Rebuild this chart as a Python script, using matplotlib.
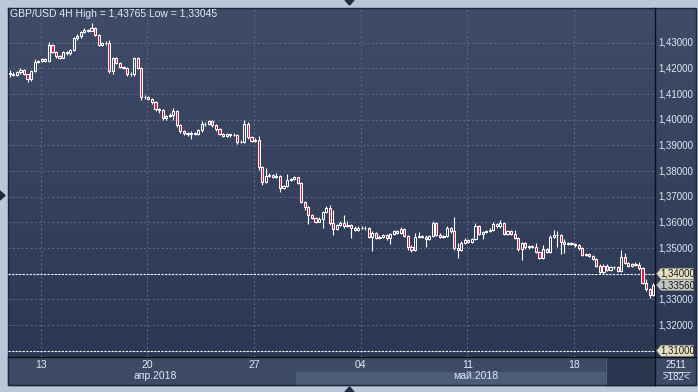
import numpy as np
import matplotlib.pyplot as plt
from matplotlib.patches import Polygon, Rectangle
from matplotlib.colors import LinearSegmentedColormap

plt.rcParams['font.family'] = ['Liberation Sans', 'DejaVu Sans']

W, H = 698, 392

# GBP/USD 4H candles (open of each bar = previous close)
first_open = 1.4182
close = [
    1.4178, 1.4176, 1.4185, 1.4195, 1.4178, 1.4158, 1.4190, 1.4226, 1.4230, 1.4236,
    1.4230, 1.4290, 1.4264, 1.4248, 1.4242, 1.4262, 1.4258, 1.4272, 1.4318, 1.4326,
    1.4340, 1.4350, 1.4346, 1.4358, 1.4330, 1.4292, 1.4297, 1.4300, 1.4190, 1.4240,
    1.4222, 1.4206, 1.4202, 1.4180, 1.4178, 1.4240, 1.4200, 1.4090, 1.4088, 1.4082,
    1.4068, 1.4040, 1.4036, 1.4005, 1.4015, 1.4020, 1.4032, 1.3978, 1.3955, 1.3948,
    1.3944, 1.3950, 1.3946, 1.3958, 1.3982, 1.3985, 1.3995, 1.3978, 1.3962, 1.3945,
    1.3938, 1.3943, 1.3940, 1.3942, 1.3912, 1.3915, 1.3985, 1.3932, 1.3918, 1.3922,
    1.3815, 1.3757, 1.3780, 1.3786, 1.3778, 1.3782, 1.3735, 1.3740, 1.3765, 1.3768,
    1.3775, 1.3755, 1.3680, 1.3660, 1.3630, 1.3618, 1.3603, 1.3615, 1.3640, 1.3658,
    1.3598, 1.3575, 1.3590, 1.3598, 1.3586, 1.3590, 1.3578, 1.3572, 1.3578, 1.3580,
    1.3578, 1.3543, 1.3560, 1.3540, 1.3545, 1.3550, 1.3538, 1.3555, 1.3565, 1.3560,
    1.3575, 1.3548, 1.3505, 1.3493, 1.3543, 1.3547, 1.3545, 1.3535, 1.3548, 1.3598,
    1.3552, 1.3545, 1.3547, 1.3578, 1.3565, 1.3500, 1.3492, 1.3520, 1.3532, 1.3525,
    1.3535, 1.3586, 1.3555, 1.3563, 1.3566, 1.3572, 1.3594, 1.3584, 1.3596, 1.3556,
    1.3567, 1.3556, 1.3540, 1.3495, 1.3520, 1.3504, 1.3508, 1.3506, 1.3486, 1.3462,
    1.3496, 1.3486, 1.3543, 1.3550, 1.3552, 1.3522, 1.3516, 1.3518, 1.3517, 1.3510,
    1.3500, 1.3473, 1.3478, 1.3469, 1.3458, 1.3432, 1.3405, 1.3432, 1.3415, 1.3428,
    1.3426, 1.3412, 1.3465, 1.3442, 1.3430, 1.3436, 1.3434, 1.3421, 1.3365, 1.3340,
    1.3318, 1.3356,
]
high = [
    1.4195, 1.4184, 1.4190, 1.4200, 1.4198, 1.4180, 1.4194, 1.4235, 1.4234, 1.4240,
    1.4240, 1.4302, 1.4294, 1.4268, 1.4252, 1.4266, 1.4266, 1.4276, 1.4322, 1.4334,
    1.4344, 1.4356, 1.4354, 1.43765, 1.4362, 1.4334, 1.4302, 1.4306, 1.4310, 1.4246,
    1.4244, 1.4226, 1.4210, 1.4206, 1.4186, 1.4246, 1.4246, 1.4204, 1.4096, 1.4092,
    1.4086, 1.4072, 1.4044, 1.4040, 1.4020, 1.4026, 1.4046, 1.4036, 1.3982, 1.3960,
    1.3952, 1.3956, 1.3954, 1.3962, 1.3995, 1.3990, 1.4000, 1.3998, 1.3982, 1.3966,
    1.3950, 1.3948, 1.3946, 1.3948, 1.3946, 1.3920, 1.4000, 1.3990, 1.3936, 1.3928,
    1.3937, 1.3818, 1.3810, 1.3792, 1.3790, 1.3792, 1.3786, 1.3746, 1.3790, 1.3774,
    1.3780, 1.3778, 1.3758, 1.3684, 1.3664, 1.3634, 1.3622, 1.3620, 1.3645, 1.3665,
    1.3668, 1.3650, 1.3594, 1.3605, 1.3628, 1.3605, 1.3594, 1.3584, 1.3584, 1.3586,
    1.3584, 1.3582, 1.3566, 1.3564, 1.3550, 1.3554, 1.3554, 1.3560, 1.3570, 1.3570,
    1.3582, 1.3580, 1.3552, 1.3510, 1.3560, 1.3562, 1.3552, 1.3550, 1.3552, 1.3604,
    1.3600, 1.3558, 1.3552, 1.3584, 1.3582, 1.3620, 1.3520, 1.3526, 1.3538, 1.3536,
    1.3540, 1.3598, 1.3590, 1.3568, 1.3572, 1.3578, 1.3602, 1.3598, 1.3609, 1.3600,
    1.3572, 1.3570, 1.3570, 1.3544, 1.3525, 1.3524, 1.3512, 1.3512, 1.3520, 1.3490,
    1.3510, 1.3500, 1.3551, 1.3570, 1.3565, 1.3556, 1.3535, 1.3522, 1.3522, 1.3520,
    1.3514, 1.3504, 1.3482, 1.3482, 1.3472, 1.3462, 1.3436, 1.3436, 1.3436, 1.3432,
    1.3432, 1.3430, 1.3492, 1.3480, 1.3446, 1.3440, 1.3445, 1.3445, 1.3425, 1.3380,
    1.3345, 1.3362,
]
low = [
    1.4168, 1.4170, 1.4172, 1.4180, 1.4174, 1.4145, 1.4150, 1.4185, 1.4222, 1.4226,
    1.4224, 1.4226, 1.4258, 1.4240, 1.4236, 1.4240, 1.4252, 1.4254, 1.4268, 1.4312,
    1.4320, 1.4338, 1.4340, 1.4344, 1.4326, 1.4286, 1.4288, 1.4292, 1.4182, 1.4180,
    1.4216, 1.4200, 1.4196, 1.4172, 1.4170, 1.4172, 1.4196, 1.4076, 1.4082, 1.4078,
    1.4062, 1.4034, 1.4028, 1.4000, 1.4000, 1.4010, 1.4000, 1.3972, 1.3950, 1.3942,
    1.3938, 1.3926, 1.3940, 1.3942, 1.3952, 1.3976, 1.3980, 1.3972, 1.3956, 1.3940,
    1.3932, 1.3934, 1.3934, 1.3936, 1.3906, 1.3908, 1.3910, 1.3926, 1.3912, 1.3914,
    1.3803, 1.3745, 1.3752, 1.3776, 1.3772, 1.3774, 1.3718, 1.3730, 1.3736, 1.3760,
    1.3764, 1.3750, 1.3676, 1.3648, 1.3592, 1.3612, 1.3598, 1.3600, 1.3580, 1.3636,
    1.3590, 1.3552, 1.3570, 1.3586, 1.3580, 1.3582, 1.3540, 1.3566, 1.3568, 1.3574,
    1.3572, 1.3538, 1.3487, 1.3534, 1.3536, 1.3540, 1.3532, 1.3515, 1.3550, 1.3554,
    1.3556, 1.3542, 1.3493, 1.3485, 1.3490, 1.3540, 1.3538, 1.3505, 1.3530, 1.3544,
    1.3546, 1.3540, 1.3540, 1.3542, 1.3560, 1.3494, 1.3462, 1.3488, 1.3516, 1.3520,
    1.3520, 1.3530, 1.3550, 1.3535, 1.3558, 1.3562, 1.3568, 1.3578, 1.3580, 1.3550,
    1.3550, 1.3550, 1.3534, 1.3488, 1.3455, 1.3498, 1.3498, 1.3500, 1.3480, 1.3458,
    1.3458, 1.3480, 1.3482, 1.3540, 1.3505, 1.3475, 1.3480, 1.3510, 1.3512, 1.3505,
    1.3494, 1.3468, 1.3468, 1.3464, 1.3452, 1.3428, 1.3398, 1.3400, 1.3410, 1.3410,
    1.3420, 1.3406, 1.3408, 1.3438, 1.3426, 1.3426, 1.3430, 1.3416, 1.3360, 1.3334,
    1.33045, 1.3312,
]

day_ticks = [9, 39, 69, 99, 129, 159]
day_labels = ['13', '20', '27', '04', '11', '18']
month_ticks = [41, 131]
month_labels = ['апр.2018', 'май.2018']
grid_levels = [1.31, 1.32, 1.33, 1.34, 1.35, 1.36, 1.37, 1.38, 1.39, 1.40, 1.41, 1.42, 1.43]
price_labels = [1.32, 1.33, 1.35, 1.36, 1.37, 1.38, 1.39, 1.40, 1.41, 1.42, 1.43]
tag_levels = [1.34, 1.3356, 1.31]
tag_colors = ['#e6e2c6', '#c4c6c4', '#e6e2c6']
title = 'GBP/USD 4H High = 1,43765 Low = 1,33045'


def rect(x0, y0, x1, y1):
    # pixel box (top-left origin) -> figure fraction
    return [x0 / W, 1 - y1 / H, (x1 - x0) / W, (y1 - y0) / H]


def fmt(p):
    return '{:.5f}'.format(p).replace('.', ',')


fig = plt.figure(figsize=(W / 100, H / 100), dpi=100)
fig.patch.set_facecolor('#bac7d8')

# background layer in pixel coordinates
bg = fig.add_axes([0, 0, 1, 1], zorder=0)
bg.axis('off')

grad = LinearSegmentedColormap.from_list('bg', ['#3f4b67', '#2c3754'])
g = np.linspace(0, 1, 256).reshape(-1, 1)
bg.imshow(g, cmap=grad, extent=[8, 655, 357, 8], aspect='auto', origin='upper')
bg.imshow(g, cmap=grad, extent=[655, 696, 357, 8], aspect='auto', origin='upper')
bg.set_xlim(0, W)
bg.set_ylim(H, 0)

bg.add_patch(Rectangle((8, 357), 647, 28, color='#3d4a66'))
bg.add_patch(Rectangle((296, 372), 310, 12, color='#4c5b78'))
bg.add_patch(Rectangle((606, 357), 49, 28, color='#2b3550'))
bg.plot([606, 606], [357, 384], color='#56647f', lw=0.8)
bg.add_patch(Rectangle((655, 357), 41, 28, color='#3d4a66'))
bg.plot([8, 696, 696, 8, 8], [8, 8, 385, 385, 8], color='#1c2436', lw=1)
bg.plot([655, 655], [8, 385], color='#0b0f18', lw=1)
bg.plot([8, 696], [357, 357], color='#0b0f18', lw=1)

bg.text(10, 14, title, color='#e4ecf6', fontsize=7.5, va='center', ha='left')
bg.text(676, 364.5, '2511', color='#e4ecf6', fontsize=7, va='center', ha='center')
bg.plot([663, 690], [371.5, 371.5], color='#c8d2e0', lw=0.6)
bg.text(676, 377.5, '>182<', color='#e4ecf6', fontsize=7, va='center', ha='center')

for pts in ([(345, 0), (354, 0), (349.5, 5)],
            [(0, 191), (0, 200), (5, 195.5)],
            [(345, 392), (354, 392), (349.5, 387)]):
    bg.add_patch(Polygon(pts, closed=True, color='#1e2a40'))

# price chart
ymin, ymax = 1.307561, 1.443518
ax = fig.add_axes(rect(8, 8, 655, 357), zorder=1)
ax.set_facecolor('none')
ax.set_xlim(-0.5, len(close) - 0.5)
ax.set_ylim(ymin, ymax)
for s in ax.spines.values():
    s.set_visible(False)
ax.set_xticks([])
ax.set_yticks([])

for lvl in grid_levels:
    ax.axhline(lvl, color='#5d6c89', lw=0.7, ls=(0, (2, 2.5)), zorder=0)
for t in day_ticks:
    ax.axvline(t - 0.3, color='#5d6c89', lw=0.7, ls=(0, (2, 2.5)), zorder=0)
for lvl in (1.34, 1.31):
    ax.axhline(lvl, color='#f2f4f8', lw=0.8, ls=(0, (2, 1.2)), zorder=1)

c = np.array(close)
o = np.array([first_open] + close[:-1])
hi = np.array(high)
lo = np.array(low)
x = np.arange(len(c))
top = np.maximum(o, c)
bot = np.minimum(o, c)
ax.vlines(x, top, hi, color='white', lw=0.8, zorder=2)
ax.vlines(x, lo, bot, color='white', lw=0.8, zorder=2)
up = c >= o
ax.bar(x[up], (c - o)[up], bottom=o[up], width=0.6, facecolor='none',
       edgecolor='white', linewidth=0.75, zorder=3)
ax.bar(x[~up], (o - c)[~up], bottom=c[~up], width=0.6, facecolor='#e8163c',
       edgecolor='white', linewidth=0.75, zorder=3)

tr = ax.get_xaxis_transform()
for t, lab in zip(day_ticks, day_labels):
    ax.text(t - 0.3, -0.023, lab, transform=tr, color='#dfe8f4', fontsize=7.5,
            ha='center', va='center', clip_on=False)
for t, lab in zip(month_ticks, month_labels):
    ax.text(t, -0.054, lab, transform=tr, color='#dfe8f4', fontsize=7.5,
            ha='center', va='center', clip_on=False)

# right price scale
rp = fig.add_axes(rect(655, 8, 696, 357), zorder=1)
rp.set_facecolor('none')
rp.set_xlim(0, 41)
rp.set_ylim(ymin, ymax)
rp.axis('off')
for p in price_labels:
    rp.text(3, p, fmt(p), color='#dfe8f4', fontsize=7, va='center', ha='left')
dh = 5.5 * (ymax - ymin) / 349
for p, col in zip(tag_levels, tag_colors):
    pts = [(1.5, p), (6, p + dh), (38.5, p + dh), (38.5, p - dh), (6, p - dh)]
    rp.add_patch(Polygon(pts, closed=True, facecolor=col, edgecolor='#8a8c80', lw=0.5))
    rp.text(5.5, p, fmt(p), color='#1a1a1a', fontsize=7, va='center', ha='left')

fig.savefig('out.png', dpi=100)
